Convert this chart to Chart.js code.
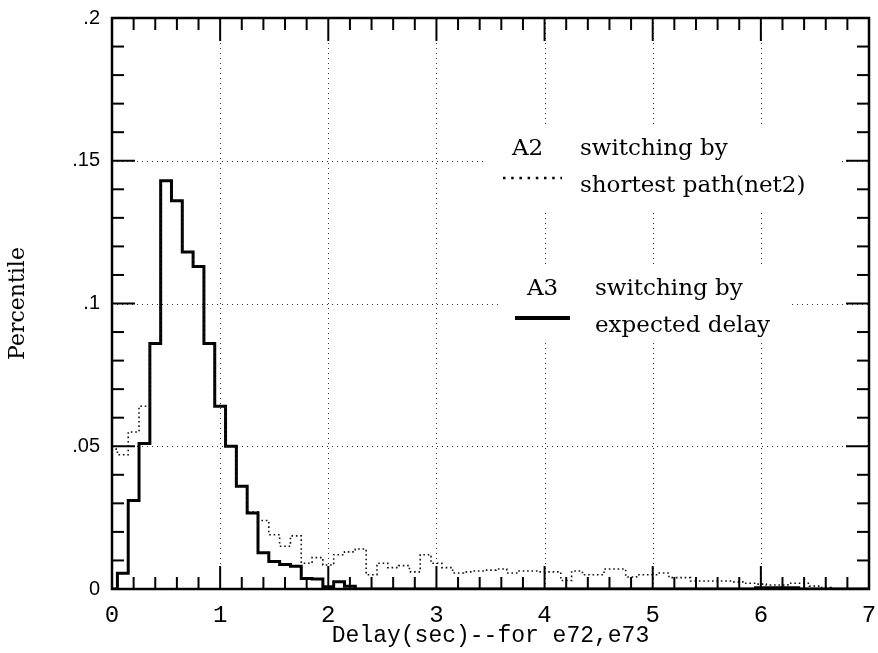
<!DOCTYPE html>
<html>
<head>
<meta charset="utf-8">
<script src="https://cdn.jsdelivr.net/npm/chart.js@4.4.1/dist/chart.umd.min.js"></script>
<style>
  html, body { margin: 0; padding: 0; background: #fff; }
  #wrap { width: 878px; height: 653px; }
</style>
</head>
<body>
<div id="wrap"><canvas id="c" width="878" height="653"></canvas></div>
<script>
// Histogram bins (centre of each 0.1 s bin)
const binCenters = [
  0.0, 0.1, 0.2, 0.3, 0.4, 0.5, 0.6, 0.7, 0.8, 0.9,
  1.0, 1.1, 1.2, 1.3, 1.4, 1.5, 1.6, 1.7, 1.8, 1.9,
  2.0, 2.1, 2.2, 2.3, 2.4, 2.5, 2.6, 2.7, 2.8, 2.9,
  3.0, 3.1, 3.2, 3.3, 3.4, 3.5, 3.6, 3.7, 3.8, 3.9,
  4.0, 4.1, 4.2, 4.3, 4.4, 4.5, 4.6, 4.7, 4.8, 4.9,
  5.0, 5.1, 5.2, 5.3, 5.4, 5.5, 5.6, 5.7, 5.8, 5.9,
  6.0, 6.1, 6.2, 6.3, 6.4, 6.5, 6.6, 6.7, 6.8, 6.9,
  7.0
];
const binWidth = 0.1;

// A2: switching by shortest path (net2)
const shortestPath = [
  0.049, 0.047, 0.055, 0.064, 0.086, 0.143, 0.136, 0.118, 0.113, 0.086,
  0.064, 0.050, 0.036, 0.027, 0.024, 0.019, 0.015, 0.0186, 0.009, 0.011,
  0.0084, 0.012, 0.013, 0.014, 0.005, 0.009, 0.0075, 0.0082, 0.006, 0.012,
  0.009, 0.0075, 0.0056, 0.006, 0.0063, 0.0066, 0.007, 0.0056, 0.0063, 0.0063,
  0.006, 0.006, 0.003, 0.0063, 0.005, 0.005, 0.007, 0.007, 0.0042, 0.005,
  0.005, 0.0056, 0.004, 0.004, 0.0028, 0.0028, 0.0028, 0.0028, 0.0025, 0.002,
  0.0017, 0.0014, 0.0014, 0.002, 0.002, 0.001, 0.0005, 0, 0, 0,
  0
];

// A3: switching by expected delay
const expectedDelay = [
  0, 0.0055, 0.031, 0.051, 0.086, 0.143, 0.136, 0.118, 0.113, 0.086,
  0.064, 0.050, 0.036, 0.0266, 0.0127, 0.0096, 0.0086, 0.008, 0.0037, 0.0035,
  0.0008, 0.0025, 0.001, 0, 0, 0, 0, 0, 0, 0,
  0, 0, 0, 0, 0, 0, 0, 0, 0, 0,
  0, 0, 0, 0, 0, 0, 0, 0, 0, 0,
  0, 0, 0, 0, 0, 0, 0, 0, 0, 0,
  0.0004, 0.0004, 0.0004, 0.0004, 0, 0, 0, 0, 0, 0,
  0
];

const xTickLabels = ['0', '1', '2', '3', '4', '5', '6', '7'];
const yTickLabels = ['0', '.05', '.1', '.15', '.2'];

// Bin edges as points for a stepped outline (rises from the baseline)
function stepPoints(vals) {
  const pts = [{ x: binCenters[0] - binWidth / 2, y: 0 }];
  binCenters.forEach((c, i) => pts.push({ x: c - binWidth / 2, y: vals[i] }));
  const last = binCenters.length - 1;
  pts.push({ x: binCenters[last] + binWidth / 2, y: vals[last] });
  return pts;
}

function line(ctx, x1, y1, x2, y2) {
  ctx.beginPath(); ctx.moveTo(x1, y1); ctx.lineTo(x2, y2); ctx.stroke();
}

// Dotted grid, framed box with inward ticks, and the annotation block
const framePlugin = {
  id: 'frame',
  beforeDatasetsDraw(chart) {
    const { ctx, chartArea: a, scales: { x, y } } = chart;
    ctx.save();
    ctx.strokeStyle = '#333';
    ctx.lineWidth = 1;
    ctx.setLineDash([1, 4]);
    for (let v = 1; v <= 6; v++) {
      const px = Math.round(x.getPixelForValue(v)) + 0.5;
      line(ctx, px, a.top, px, a.bottom);
    }
    [0.05, 0.1, 0.15].forEach(v => {
      const py = Math.round(y.getPixelForValue(v)) + 0.5;
      line(ctx, a.left, py, a.right, py);
    });
    ctx.restore();
  },
  afterDatasetsDraw(chart) {
    const { ctx, chartArea: a, scales: { x, y } } = chart;
    ctx.save();

    // annotation block
    ctx.fillStyle = '#fff';
    ctx.fillRect(486, 124, 352, 86);
    ctx.fillRect(498, 264, 294, 78);
    ctx.fillStyle = '#000';
    ctx.font = '23px "DejaVu Serif"';
    ctx.textBaseline = 'alphabetic';
    ctx.textAlign = 'left';
    ctx.fillText('A2', 512, 155);
    ctx.fillText('switching by', 580, 155);
    ctx.fillText('shortest path(net2)', 580, 192);
    ctx.fillText('A3', 527, 295);
    ctx.fillText('switching by', 595, 295);
    ctx.fillText('expected delay', 595, 332);
    ctx.strokeStyle = '#000';
    ctx.lineWidth = 2.5;
    ctx.setLineDash([2.5, 5.7]);
    line(ctx, 503, 178, 562, 178);
    ctx.setLineDash([]);
    ctx.lineWidth = 4;
    line(ctx, 515, 318, 570, 318);

    // frame
    ctx.lineWidth = 2.5;
    ctx.strokeRect(a.left, a.top, a.right - a.left, a.bottom - a.top);

    // inward ticks
    ctx.lineWidth = 2;
    for (let i = 0; i <= 35; i++) {
      const v = i * 0.2;
      const px = x.getPixelForValue(v);
      const len = (i % 5 === 0) ? 23 : 12;
      line(ctx, px, a.bottom, px, a.bottom - len);
      line(ctx, px, a.top, px, a.top + len);
    }
    for (let i = 0; i <= 20; i++) {
      const v = i * 0.01;
      const py = y.getPixelForValue(v);
      const len = (i % 5 === 0) ? 23 : 12;
      line(ctx, a.left, py, a.left + len, py);
      line(ctx, a.right, py, a.right - len, py);
    }
    ctx.restore();
  }
};

new Chart(document.getElementById('c'), {
  type: 'line',
  data: {
    datasets: [
      {
        label: 'A2 switching by shortest path(net2)',
        data: stepPoints(shortestPath),
        stepped: 'before',
        borderColor: '#111',
        borderWidth: 1.6,
        borderDash: [1.6, 2.8],
        pointRadius: 0,
        fill: false,
        clip: 0
      },
      {
        label: 'A3 switching by expected delay',
        data: stepPoints(expectedDelay),
        stepped: 'before',
        borderColor: '#000',
        borderWidth: 3,
        borderJoinStyle: 'miter',
        pointRadius: 0,
        fill: false,
        clip: 0
      }
    ]
  },
  options: {
    responsive: false,
    animation: false,
    events: [],
    layout: { padding: { top: 18, right: 9, left: 0, bottom: 0 } },
    plugins: { legend: { display: false }, tooltip: { enabled: false } },
    scales: {
      x: {
        type: 'linear',
        min: 0, max: 7,
        grid: { display: false, drawTicks: false },
        border: { display: false },
        afterFit(s) { s.height = 64; s.paddingLeft = 0; s.paddingRight = 0; },
        ticks: {
          stepSize: 1,
          padding: 12,
          color: '#000',
          font: { family: '"Liberation Mono", monospace', size: 24 },
          callback: (v, i) => xTickLabels[i]
        },
        title: {
          display: true,
          text: 'Delay(sec)--for e72,e73',
          color: '#000',
          font: { family: '"Liberation Mono", monospace', size: 23 },
          padding: { top: 0, bottom: 3 }
        }
      },
      y: {
        min: 0, max: 0.2,
        grid: { display: false, drawTicks: false },
        border: { display: false },
        afterFit(s) { s.width = 112; s.paddingTop = 0; s.paddingBottom = 0; },
        ticks: {
          stepSize: 0.05,
          padding: 12,
          color: '#000',
          font: { family: '"Liberation Sans", sans-serif', size: 20 },
          callback: (v, i) => yTickLabels[i]
        },
        title: {
          display: true,
          text: 'Percentile',
          color: '#000',
          font: { family: '"DejaVu Serif", serif', size: 22 },
          padding: { top: 5, bottom: 0 }
        }
      }
    }
  },
  plugins: [framePlugin]
});
</script>
</body>
</html>
